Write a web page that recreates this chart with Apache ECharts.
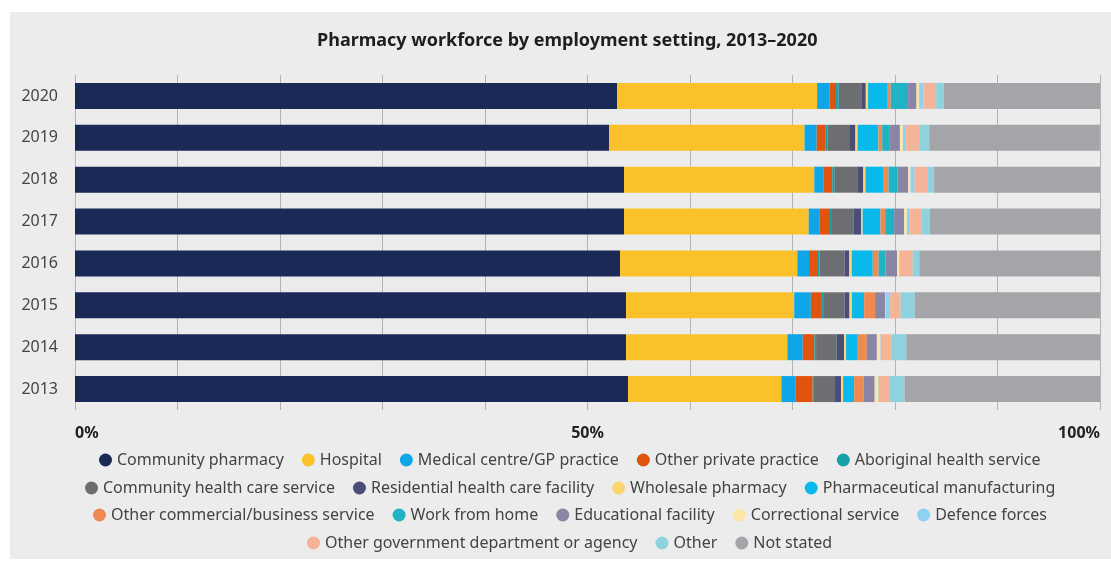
<!DOCTYPE html>
<html>
<head>
<meta charset="utf-8">
<script src="https://cdn.jsdelivr.net/npm/echarts@6/dist/echarts.min.js"></script>
<style>
  html, body { margin: 0; padding: 0; background: #ffffff; }
  #panel { position: absolute; left: 10px; top: 12px; width: 1101px; height: 547px; background: #ececec; }
  #chart { position: absolute; left: 0; top: 0; width: 1111px; height: 561px; }
</style>
</head>
<body>
<div id="panel"></div>
<div id="chart"></div>
<script>
// Categories (bottom to top)
const years = ['2013', '2014', '2015', '2016', '2017', '2018', '2019', '2020'];

// Share of workforce (%) by employment setting, 2013..2020
const communityPharmacy   = [53.95, 53.76, 53.76, 53.17, 53.56, 53.56, 52.10, 52.90];
const hospital            = [14.96, 15.74, 16.41, 17.30, 18.02, 18.57, 19.07, 19.50];
const medicalCentre       = [1.41, 1.50, 1.62, 1.14, 1.03, 0.88, 1.19, 1.20];
const otherPrivate        = [1.65, 1.13, 1.00, 0.88, 0.95, 0.87, 0.83, 0.65];
const aboriginal          = [0.05, 0.17, 0.20, 0.15, 0.20, 0.24, 0.25, 0.26];
const communityHealth     = [2.13, 2.02, 2.10, 2.44, 2.18, 2.20, 2.09, 2.20];
const residential         = [0.59, 0.71, 0.47, 0.46, 0.75, 0.59, 0.61, 0.44];
const wholesale           = [0.20, 0.20, 0.23, 0.24, 0.15, 0.21, 0.21, 0.22];
const pharmaManufacturing = [1.07, 1.14, 1.20, 2.05, 1.74, 1.78, 2.03, 1.85];
const otherCommercial     = [0.94, 0.88, 1.07, 0.57, 0.46, 0.47, 0.37, 0.36];
const workFromHome        = [0, 0, 0, 0.68, 0.88, 0.88, 0.75, 1.70];
const educational         = [1.07, 0.98, 1.00, 1.12, 0.98, 1.04, 0.98, 0.82];
const correctional        = [0.33, 0.32, 0.05, 0.22, 0.26, 0.22, 0.29, 0.25];
const defence             = [0.05, 0.05, 0.41, 0.07, 0.22, 0.39, 0.32, 0.43];
const otherGov            = [1.11, 1.04, 1.03, 1.24, 1.19, 1.24, 1.27, 1.24];
const other               = [1.43, 1.46, 1.37, 0.64, 0.83, 0.68, 0.98, 0.74];
const notStated           = [19.12, 18.93, 18.12, 17.63, 16.61, 16.18, 16.65, 15.24];

const seriesNames = [
  'Community pharmacy', 'Hospital', 'Medical centre/GP practice', 'Other private practice',
  'Aboriginal health service', 'Community health care service', 'Residential health care facility',
  'Wholesale pharmacy', 'Pharmaceutical manufacturing', 'Other commercial/business service',
  'Work from home', 'Educational facility', 'Correctional service', 'Defence forces',
  'Other government department or agency', 'Other', 'Not stated'
];
const seriesValues = [
  communityPharmacy, hospital, medicalCentre, otherPrivate, aboriginal, communityHealth,
  residential, wholesale, pharmaManufacturing, otherCommercial, workFromHome, educational,
  correctional, defence, otherGov, other, notStated
];
const colors = [
  '#1b2956', '#fbc12b', '#0ea6e6', '#e0540f', '#17a0a8', '#6d6e72', '#4a4d78',
  '#fdd46e', '#09b9ec', '#ee8a50', '#1fb3c3', '#8886a4', '#fde5a6', '#8dd2f2',
  '#f3b497', '#8ed2de', '#a4a5a9'
];
const xTickLabels = { 0: '0%', 50: '50%', 100: '100%' };
const titleText = 'Pharmacy workforce by employment setting, 2013\u20132020';

const legendRows = [
  seriesNames.slice(0, 5),
  seriesNames.slice(5, 9),
  seriesNames.slice(9, 14),
  seriesNames.slice(14, 17)
];
const legendTops = [452, 480, 507, 535];

const FONT = 'Noto Sans';
const LEG_FS = 16, ICON = 13, ICON_GAP = 5, ITEM_GAP = 18;
const LEG_CENTER = 570, TITLE_CENTER = 567;

const measureCtx = document.createElement('canvas').getContext('2d');
function textW(str, font) { measureCtx.font = font; return measureCtx.measureText(str).width; }
function rowWidth(row) {
  let w = 0;
  row.forEach((n, i) => { w += ICON + ICON_GAP + textW(n, LEG_FS + 'px "' + FONT + '"'); if (i) w += ITEM_GAP; });
  return w;
}
const titleW = textW(titleText, 'bold 18px "' + FONT + '"');

const chart = echarts.init(document.getElementById('chart'), null, { renderer: 'canvas' });
chart.setOption({
  backgroundColor: 'transparent',
  color: colors,
  animation: false,
  title: {
    text: titleText,
    left: Math.round(TITLE_CENTER - titleW / 2),
    top: 32,
    padding: 0,
    textStyle: { fontFamily: FONT, fontSize: 18, fontWeight: 'bold', color: '#1e1e1e' }
  },
  legend: legendRows.map((row, i) => ({
    data: row,
    top: legendTops[i],
    left: Math.round(LEG_CENTER - rowWidth(row) / 2),
    padding: 0,
    icon: 'circle',
    itemWidth: ICON,
    itemHeight: ICON,
    itemGap: ITEM_GAP,
    textStyle: { fontFamily: FONT, fontSize: LEG_FS, color: '#444' }
  })),
  grid: { left: 75, right: 11, top: 75, bottom: 151, containLabel: false },
  xAxis: {
    type: 'value',
    min: 0, max: 100, interval: 10,
    axisLine: { show: false },
    axisTick: { show: false },
    splitLine: { show: true, lineStyle: { color: '#b3b3b3', width: 1 } },
    axisLabel: {
      margin: 15,
      fontFamily: FONT, fontSize: 16, fontWeight: 'bold', color: '#222',
      alignMinLabel: 'left', alignMaxLabel: 'right',
      padding: [0, 0, 0, 0],
      formatter: v => (xTickLabels[v] !== undefined ? xTickLabels[v] : '')
    }
  },
  yAxis: {
    type: 'category',
    data: years,
    axisLine: { show: false },
    axisTick: { show: false },
    axisLabel: { margin: 17, fontFamily: FONT, fontSize: 16, color: '#444' }
  },
  series: seriesNames.map((name, i) => ({
    name: name,
    type: 'bar',
    stack: 'total',
    barWidth: 26,
    data: seriesValues[i],
    itemStyle: { color: colors[i] }
  }))
});
</script>
</body>
</html>
